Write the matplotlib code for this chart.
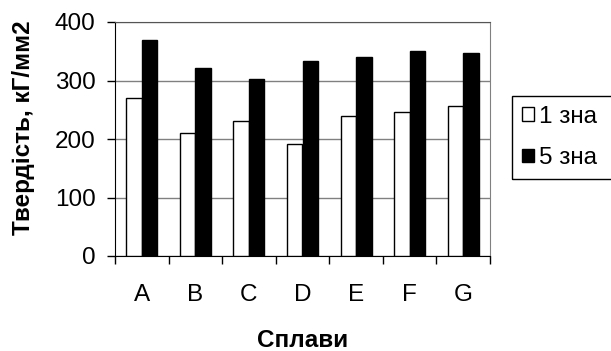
import matplotlib.pyplot as plt
import matplotlib.patches as mpatches
import numpy as np

plt.rcParams['font.family'] = ['Liberation Sans', 'DejaVu Sans']

# data
alloys = ["A", "B", "C", "D", "E", "F", "G"]
one_sign = [270, 210, 230, 192, 240, 247, 257]     # "1 зна"
five_sign = [370, 322, 302, 333, 340, 350, 347]    # "5 зна"
series_labels = ["1 зна", "5 зна"]

x = np.arange(len(alloys))
w = 0.29
fs = 17.5

fig = plt.figure(figsize=(6.11, 3.51), dpi=100)
ax = fig.add_axes([115 / 611, 95 / 351, 375 / 611, 234 / 351])

b1 = ax.bar(x - w / 2, one_sign, w, color="white", edgecolor="black",
            linewidth=1.0, label=series_labels[0], zorder=3)
b2 = ax.bar(x + w / 2, five_sign, w, color="black", edgecolor="black",
            linewidth=1.0, label=series_labels[1], zorder=3)

ax.set_xlim(-0.5, len(alloys) - 0.5)
ax.set_ylim(0, 400)
ax.set_yticks(np.arange(0, 401, 100))
ax.yaxis.grid(True, color="#808080", linewidth=1.0)
ax.set_axisbelow(True)

# ticks at category borders, labels in the middle
ax.set_xticks(x)
ax.set_xticklabels(alloys, fontsize=fs)
ax.set_xticks(np.arange(-0.5, len(alloys), 1), minor=True)
ax.tick_params(axis="x", which="major", length=0, pad=20)
ax.tick_params(axis="x", which="minor", length=6, width=1, direction="out")
ax.tick_params(axis="y", length=6, width=1, direction="out", labelsize=fs, pad=8)

ax.spines["top"].set_color("#555555")
ax.spines["right"].set_color("#808080")
ax.spines["left"].set_color("black")
ax.spines["bottom"].set_color("black")

ax.set_ylabel("Твердість, кГ/мм2", fontsize=fs, fontweight="bold")
ax.yaxis.set_label_coords(-0.213, 0.547)
ax.set_xlabel("Сплави", fontsize=fs, fontweight="bold", labelpad=17)

leg = fig.legend(handles=[b1, b2], labels=series_labels,
                 loc="upper left", bbox_to_anchor=(512 / 611, 1 - 96 / 351),
                 fontsize=fs, frameon=False,
                 handlelength=0.5, handleheight=0.5, handletextpad=0.2,
                 borderpad=0.4, labelspacing=0.8, borderaxespad=0)

# the legend box runs past the right edge of the picture in the original
fig.canvas.draw()
bb = leg.get_window_extent().transformed(fig.transFigure.inverted())
fig.patches.append(mpatches.Rectangle((bb.x0, bb.y0), 1.0, bb.height,
                                      transform=fig.transFigure, fill=False,
                                      edgecolor="black", linewidth=1.0))

fig.savefig("out.png", dpi=100)
